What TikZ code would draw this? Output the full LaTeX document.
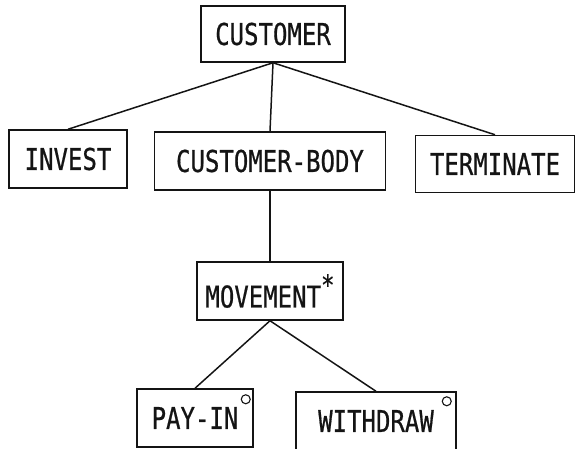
\documentclass[tikz,border=0pt]{standalone}
\usepackage{fontspec}
\usepackage{xcolor}
\usepackage{tikz}
\usetikzlibrary{positioning}
\newfontfamily\dotfont[FakeStretch=0.8, FakeBold=0.6]{DejaVu Sans Mono}
\definecolor{inkblack}{RGB}{20,20,20}

\begin{document}
\begin{tikzpicture}[
        x=1pt, y=-1pt,
        box/.style={rectangle, draw=inkblack, line width=1.5pt, inner sep=0pt, minimum height=58pt, align=center, font=\fontsize{30}{32}\dotfont, text=inkblack},
        branch/.style={draw=inkblack, line width=1.5pt},
        mark circle/.style={draw=inkblack, line width=1.1pt}
    ]
        \useasboundingbox (0,0) rectangle (577,448);

        \node[box, minimum width=144pt, minimum height=56pt] (customer) at (273, 34)  {CUSTOMER};
        \node[box, minimum width=118pt] (invest)   at (68, 159)  {INVEST};
        \node[box, minimum width=231pt] (body)     at (270, 161) {CUSTOMER-BODY};
        \node[box, minimum width=159pt, minimum height=57pt] (terminate) at (495, 164) {TERMINATE};
        \node[box, minimum width=146pt] (movement) at (270, 291) {MOVEMENT\raisebox{0.42em}{\fontsize{28}{28}\selectfont *}};
        \node[box, minimum width=116pt] (payin)    at (195, 418) {PAY-IN};
        \node[box, minimum width=160pt] (withdraw) at (376, 421) {WITHDRAW};

        \draw[branch] (customer.south) -- (invest.north);
        \draw[branch] (customer.south) -- (body.north);
        \draw[branch] (customer.south) -- (terminate.north);
        \draw[branch] (body.south)     -- (movement.north);
        \draw[branch] (movement.south) -- (payin.north);
        \draw[branch] (movement.south) -- (withdraw.north);

        % selection circles
        \draw[mark circle] (payin.north east)    ++(-8, 11) circle[radius=4.5pt];
        \draw[mark circle] (withdraw.north east) ++(-10, 10) circle[radius=4.5pt];
    \end{tikzpicture}
\end{document}
